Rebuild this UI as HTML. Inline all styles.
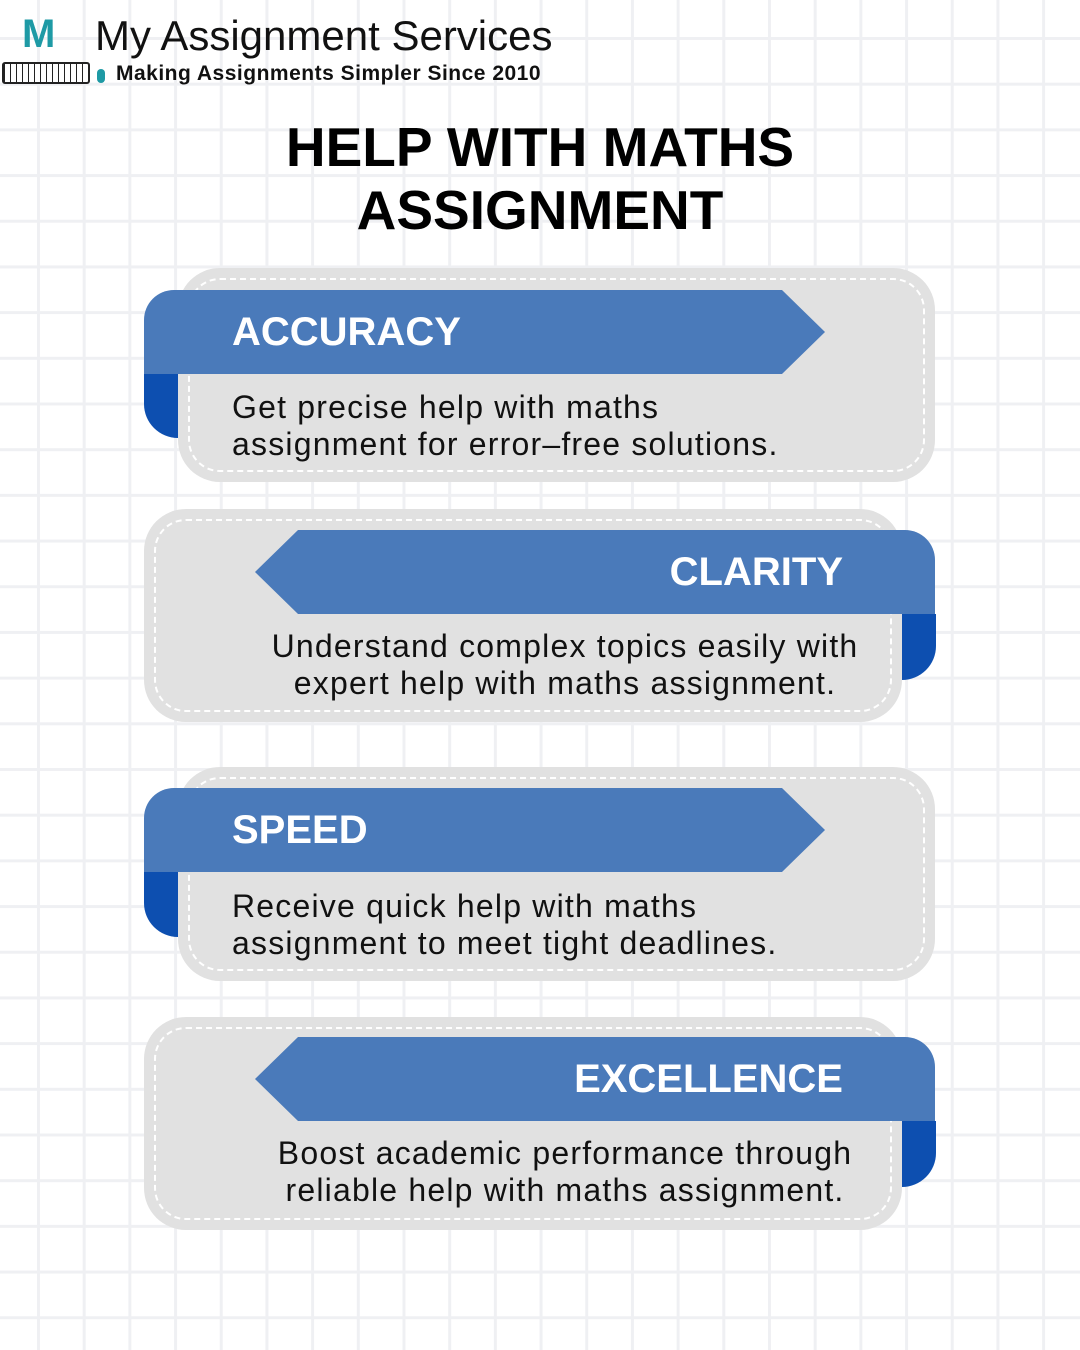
<!DOCTYPE html>
<html><head><style>
*{margin:0;padding:0;box-sizing:border-box}
body{width:1080px;height:1350px;position:relative;overflow:hidden;font-family:"Liberation Sans",sans-serif;
background-color:#fff;
background-image:linear-gradient(to right,#eff0f3 3px,transparent 3px),linear-gradient(to bottom,#eff0f3 3px,transparent 3px);
background-size:45.7px 45.7px;background-position:37px 37px;}
.abs{position:absolute}
.card{position:absolute;background:#e1e1e1;border-radius:42px;}
.card:after{content:"";position:absolute;left:10px;top:10px;right:10px;bottom:10px;border:2.5px dashed #fff;border-radius:32px;}
.ban{position:absolute;background:#4a7aba;height:84px;color:#fff;font-weight:bold;font-size:40px;line-height:84px;z-index:2}
.fold{position:absolute;background:#0d4fb0;width:34px;height:66px;z-index:1}
.txt{position:absolute;font-size:32px;line-height:37px;color:#111;z-index:3;font-family:"Liberation Sans",sans-serif;letter-spacing:1.2px;white-space:nowrap}
h1{position:absolute;left:0;width:1080px;text-align:center;font-size:55px;line-height:63px;top:116px;font-weight:bold;color:#000}
</style></head><body>
<div class="abs" style="left:22px;top:14px;font-size:40px;font-weight:bold;color:#1e9aa5;line-height:40px">M</div>
<div class="abs" style="left:95px;top:12px;font-size:42px;line-height:48px;color:#111">My Assignment Services</div>
<div class="abs" style="left:2px;top:62px;width:88px;height:22px;border:2px solid #222;border-radius:3px;background:repeating-linear-gradient(90deg,#222 0 1px,#fff 1px 6px)"></div>
<div class="abs" style="left:97px;top:69px;width:8px;height:14px;background:#1e9aa5;border-radius:4px"></div>
<div class="abs" style="left:116px;top:61px;font-size:21px;font-weight:bold;color:#111;line-height:26px;letter-spacing:0.5px">Making Assignments Simpler Since 2010</div>
<h1>HELP WITH MATHS<br>ASSIGNMENT</h1>

<div class="card" style="left:178px;top:268px;width:757px;height:214px"></div>
<div class="fold" style="left:144px;top:373px;height:65px;border-radius:0 0 0 34px"></div>
<div class="ban" style="left:144px;top:290px;width:681px;border-radius:30px 0 0 0;clip-path:polygon(0 0,638px 0,100% 50%,638px 100%,0 100%);padding-left:88px">ACCURACY</div>
<div class="txt" style="left:232px;top:389px">Get precise help with maths<br>assignment for error–free solutions.</div>

<div class="card" style="left:144px;top:509px;width:758px;height:213px"></div>
<div class="fold" style="left:902px;top:614px;border-radius:0 0 34px 0"></div>
<div class="ban" style="left:255px;top:530px;width:680px;border-radius:0 30px 0 0;clip-path:polygon(43px 0,100% 0,100% 100%,43px 100%,0 50%);text-align:right;padding-right:92px">CLARITY</div>
<div class="txt" style="left:230px;width:670px;text-align:center;top:628px">Understand complex topics easily with<br>expert help with maths assignment.</div>

<div class="card" style="left:178px;top:767px;width:757px;height:214px"></div>
<div class="fold" style="left:144px;top:872px;height:65px;border-radius:0 0 0 34px"></div>
<div class="ban" style="left:144px;top:788px;width:681px;border-radius:30px 0 0 0;clip-path:polygon(0 0,638px 0,100% 50%,638px 100%,0 100%);padding-left:88px">SPEED</div>
<div class="txt" style="left:232px;top:888px">Receive quick help with maths<br>assignment to meet tight deadlines.</div>

<div class="card" style="left:144px;top:1017px;width:758px;height:213px"></div>
<div class="fold" style="left:902px;top:1121px;border-radius:0 0 34px 0"></div>
<div class="ban" style="left:255px;top:1037px;width:680px;border-radius:0 30px 0 0;clip-path:polygon(43px 0,100% 0,100% 100%,43px 100%,0 50%);text-align:right;padding-right:92px">EXCELLENCE</div>
<div class="txt" style="left:230px;width:670px;text-align:center;top:1135px">Boost academic performance through<br>reliable help with maths assignment.</div>
</body></html>
